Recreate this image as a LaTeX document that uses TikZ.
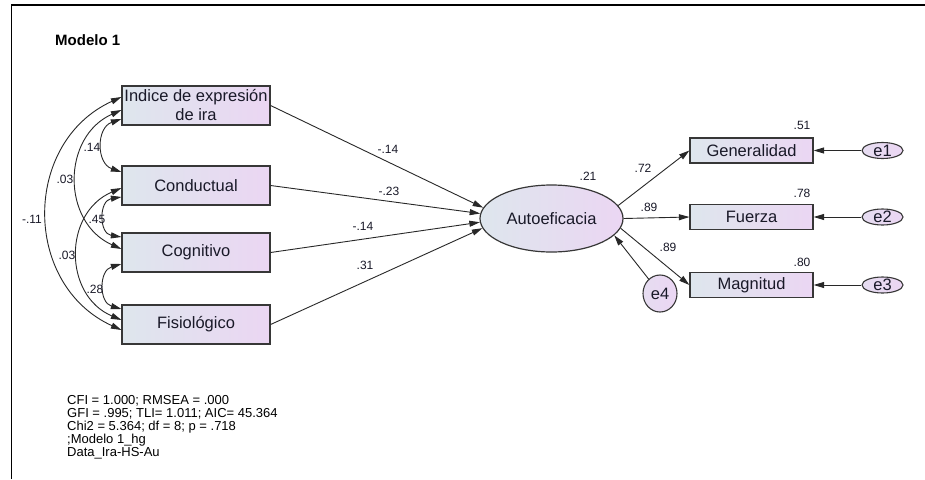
\documentclass[tikz,border=0pt]{standalone}
\usepackage{fontspec}
\setmainfont{Liberation Sans}
\usetikzlibrary{arrows.meta,calc,shapes.geometric}
\definecolor{boxL}{RGB}{222,230,237}
\definecolor{boxR}{RGB}{235,214,243}
\definecolor{edge}{RGB}{55,55,55}
\definecolor{ink}{RGB}{25,25,40}
\definecolor{lineC}{RGB}{40,40,40}
\begin{document}
\begin{tikzpicture}[x=1pt,y=-1pt,
  obsbox/.style={draw=edge, line width=1.2pt, left color=boxL, right color=boxR,
    minimum width=148pt, minimum height=39pt, inner sep=0pt, align=center,
    font=\fontsize{16.5}{19}\selectfont, text=ink},
  rbox/.style={obsbox, minimum width=123pt, minimum height=25pt},
  errnode/.style={ellipse, draw=edge, line width=1.1pt, left color=boxL!40!boxR, right color=boxR,
    inner sep=0pt, text height=11pt, text depth=0pt, font=\fontsize{16.5}{19}\selectfont, text=ink},
  reg/.style={draw=lineC, line width=0.9pt, -{Triangle[length=10.5pt,width=6pt]}},
  cov/.style={draw=lineC, line width=0.9pt, {Triangle[length=10.5pt,width=6pt]}-{Triangle[length=10.5pt,width=6pt]}},
  lbl/.style={font=\fontsize{12}{14}\selectfont, text=ink, inner sep=0pt},
  foot/.style={font=\fontsize{13}{13}\selectfont, text=black, inner sep=0pt, anchor=base west}
]
\useasboundingbox (0,0) rectangle (925,479);
\fill[white] (0,0) rectangle (925,479);
% frame
\draw[line width=1.7pt, black] (11.5,479) -- (11.5,5.2) -- (925,5.2);

\node[font=\bfseries\fontsize{15}{17}\selectfont, anchor=base west, inner sep=0pt] (title) at (55,45.5) {Modelo 1};

% observed exogenous boxes
\node[obsbox] (b1) at (196,105.5) {Indice de expresión\\de ira};
\node[obsbox] (b2) at (196,185.5) {Conductual};
\node[obsbox] (b3) at (196,252.5) {Cognitivo};
\node[obsbox] (b4) at (196,324.5) {Fisiológico};

% latent
\node[ellipse, draw=edge, line width=1.2pt, left color=boxL, right color=boxR,
  minimum width=143pt, minimum height=67pt, inner sep=0pt,
  font=\fontsize{16.5}{19}\selectfont, text=ink] (auto) at (551.5,218.5) {Autoeficacia};

% indicators
\node[rbox] (gen) at (751.5,150.5) {Generalidad};
\node[rbox] (fue) at (751.5,217) {Fuerza};
\node[rbox] (mag) at (751.5,285) {Magnitud};

% errors
\node[errnode, minimum width=41pt, minimum height=16pt] (e1) at (882.5,150.5) {e1};
\node[errnode, minimum width=41pt, minimum height=16pt] (e2) at (882.5,217) {e2};
\node[errnode, minimum width=41pt, minimum height=16pt] (e3) at (882.5,285) {e3};
\node[errnode, minimum width=34pt, minimum height=37pt] (e4) at (660,293.5) {e4};

% covariance anchor points
\coordinate (b1a) at ($(b1.west)+(0,-8.5)$);
\coordinate (b1b) at ($(b1.west)+(0,4.5)$);
\coordinate (b1c) at ($(b1.west)+(0,13.5)$);
\coordinate (b2a) at ($(b2.west)+(0,-13.5)$);
\coordinate (b2b) at ($(b2.west)+(0,2.5)$);
\coordinate (b2c) at ($(b2.west)+(0,11.5)$);
\coordinate (b3a) at ($(b3.west)+(0,-15.5)$);
\coordinate (b3b) at ($(b3.west)+(0,-3.5)$);
\coordinate (b3c) at ($(b3.west)+(0,11.5)$);
\coordinate (b4a) at ($(b4.west)+(0,-15.5)$);
\coordinate (b4b) at ($(b4.west)+(0,-4.5)$);
\coordinate (b4c) at ($(b4.west)+(0,5.5)$);

% covariances
\draw[cov] (b1c) to[bend right=71, looseness=1.29] (b2a);
\draw[cov] (b2c) to[bend right=81, looseness=1.47] (b3a);
\draw[cov] (b3c) to[bend right=74, looseness=1.34] (b4a);
\draw[cov] (b1b) to[bend right=66, looseness=1.21] (b3b);
\draw[cov] (b2b) to[bend right=67, looseness=1.23] (b4b);
\draw[cov] (b1a) to[bend right=65.5, looseness=1.2] (b4c);

\node[lbl] (c12) at (92,147) {.14};
\node[lbl] (c13) at (65,179) {.03};
\node[lbl] (c14) at (32,219) {-.11};
\node[lbl] (c23) at (97,219) {.45};
\node[lbl] (c24) at (67,255) {.03};
\node[lbl] (c34) at (95,289) {.28};

% regressions
\draw[reg] (b1.east) -- (auto.171);
\draw[reg] (b2.east) -- (auto.176);
\draw[reg] (b3.east) -- (auto.183);
\draw[reg] (b4.east) -- (auto.188);
\draw[reg] (auto.11) -- (gen.west);
\draw[reg] (auto.east) -- (fue.west);
\draw[reg] (auto.-8) -- (mag.west);
\draw[reg] (e4) -- (auto.-15);
\draw[reg] (e1) -- (gen);
\draw[reg] (e2) -- (fue);
\draw[reg] (e3) -- (mag);

\node[lbl] (p1) at (388,149) {-.14};
\node[lbl] (p2) at (389,191) {-.23};
\node[lbl] (p3) at (363,226) {-.14};
\node[lbl] (p4) at (365,265) {.31};
\node[lbl] (r2) at (588,176) {.21};
\node[lbl] (l1) at (643,168) {.72};
\node[lbl] (l2) at (649,207) {.89};
\node[lbl] (l3) at (668,247) {.89};
\node[lbl] (s1) at (802,125) {.51};
\node[lbl] (s2) at (802,193) {.78};
\node[lbl] (s3) at (802,262) {.80};

% footer
\node[foot] (f1) at (67,404.5) {CFI = 1.000; RMSEA = .000};
\node[foot] (f2) at (67,417.6) {GFI = .995; TLI= 1.011; AIC= 45.364};
\node[foot] (f3) at (67,430.7) {Chi2 = 5.364; df = 8; p = .718};
\node[foot] (f4) at (67,443.8) {;Modelo 1\_hg};
\node[foot] (f5) at (67,456.9) {Data\_Ira-HS-Au};
\end{tikzpicture}
\end{document}
